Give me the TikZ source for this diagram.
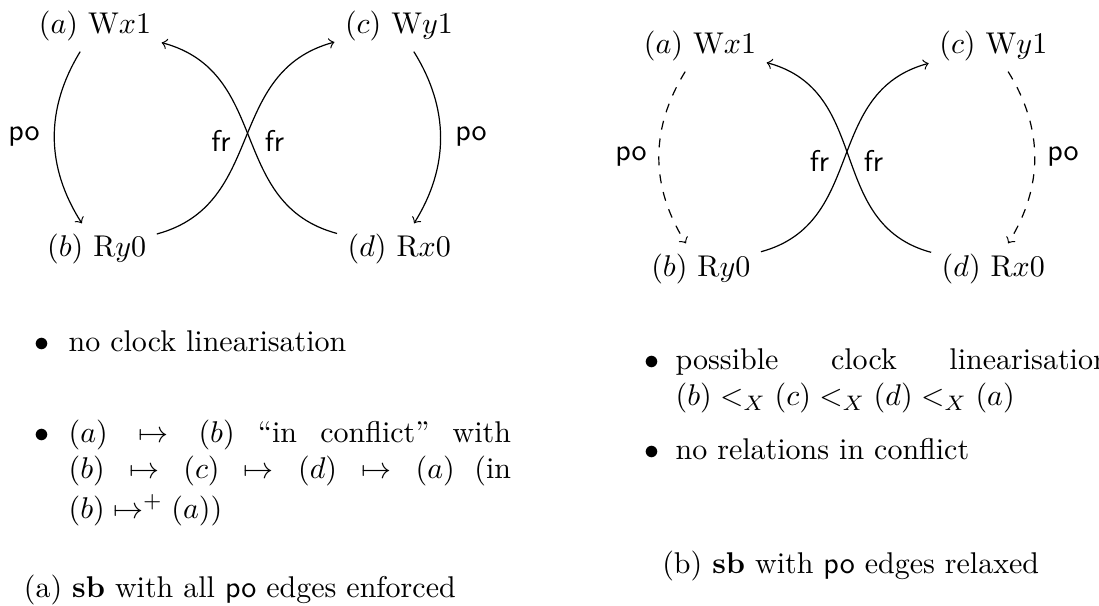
\documentclass[tikz,border=0pt]{standalone}
\usetikzlibrary{positioning}
\begin{document}
\begin{tikzpicture}[x=0.333333pt,y=-0.333333pt,
  ev/.style={inner sep=0.3333em},
  rel/.style={->},
  relaxed/.style={->,dashed},
  lbl/.style={font=\sffamily},
  bul/.style={anchor=base,inner sep=0pt},
  itemtext/.style={anchor=base west,inner sep=0pt,align=justify},
  capt/.style={anchor=base west,inner sep=0pt}]
\useasboundingbox (0,0) rectangle (1099,606);
% ---------- left panel ----------
\node[ev] (la) at (95,26) {$(a)$ W$x$1};
\node[ev] (lb) at (96.7,249) {$(b)$ R$y$0};
\node[ev] (lc) at (399,26) {$(c)$ W$y$1};
\node[ev] (ld) at (399.2,249) {$(d)$ R$x$0};
\draw[rel] (la.-120) to[bend right=32] (lb.120);
\draw[rel] (lc.-60) to[bend left=32] (ld.60);
\draw[rel] (lb.14) .. controls +(110,-29.7) and +(-110,29.7) .. (lc.194);
\draw[rel] (ld.166) .. controls +(-110,-29.7) and +(110,29.7) .. (la.-14);
\node[lbl] (lpo1) at (24,136.5) {po};
\node[lbl] (lpo2) at (471,136.5) {po};
\node[lbl] (lfr1) at (221,141) {fr};
\node[lbl] (lfr2) at (274.5,141) {fr};
% ---------- right panel ----------
\node[ev] (ra) at (700,46) {$(a)$ W$x$1};
\node[ev] (rb) at (700.8,269) {$(b)$ R$y$0};
\node[ev] (rc) at (993.3,46) {$(c)$ W$y$1};
\node[ev] (rd) at (993.3,269) {$(d)$ R$x$0};
\draw[relaxed] (ra.-120) to[bend right=32] (rb.120);
\draw[relaxed] (rc.-60) to[bend left=32] (rd.60);
\draw[rel] (rb.16) .. controls +(106,-28.6) and +(-106,28.6) .. (rc.195);
\draw[rel] (rd.165) .. controls +(-106,-28.6) and +(106,28.6) .. (ra.-14);
\node[lbl] (rpo1) at (631,156) {po};
\node[lbl] (rpo2) at (1063,156) {po};
\node[lbl] (rfr1) at (819.5,161) {fr};
\node[lbl] (rfr2) at (873.5,161) {fr};
% ---------- left texts ----------
\node[bul] (lb1) at (41.7,351.7) {$\bullet$};
\node[itemtext,text width=147.5pt] (lt1) at (68,351.7) {no clock linearisation};
\node[bul] (lb2) at (41.7,442.5) {$\bullet$};
\node[itemtext,text width=147.5pt] (lt2) at (68,442.5)
  {$(a)\mapsto(b)$ ``in conflict'' with\linebreak $(b)\mapsto(c)\mapsto(d)\mapsto(a)$ (in\linebreak \rule{0pt}{9.7pt}$(b)\mapsto^+(a)$)};
\node[capt] (lcap) at (23.3,597.5) {(a) \textbf{sb} with all \textsf{po} edges enforced};
% ---------- right texts ----------
\node[bul] (rb1) at (651.7,370) {$\bullet$};
\node[itemtext,text width=144.7pt] (rt1) at (675,370)
  {possible clock linearisation\linebreak $(b) <_X (c) <_X (d) <_X (a)$};
\node[bul] (rb2) at (651.7,460) {$\bullet$};
\node[itemtext,text width=144.7pt] (rt2) at (675,460) {no relations in conflict};
\node[capt] (rcap) at (661.7,574) {(b) \textbf{sb} with \textsf{po} edges relaxed};
\end{tikzpicture}
\end{document}
